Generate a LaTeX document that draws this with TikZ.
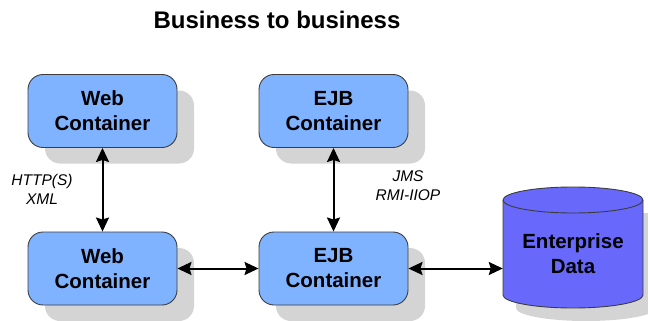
\documentclass[tikz,border=0pt]{standalone}
\usepackage{fontspec}
\setmainfont{Liberation Sans}
\usetikzlibrary{arrows.meta,shadows}
\definecolor{boxblue}{RGB}{128,179,255}
\definecolor{dbblue}{RGB}{104,104,250}
\definecolor{shadowgray}{RGB}{212,212,212}
\definecolor{edgegray}{RGB}{60,60,60}
\tikzset{
  cbox/.style={draw=edgegray, line width=0.9pt, fill=boxblue, rounded corners=15pt,
    minimum width=149pt, minimum height=73pt, align=center,
    font=\bfseries\fontsize{20.5}{25}\selectfont,
    drop shadow={shadow xshift=17pt, shadow yshift=-16pt, fill=shadowgray, opacity=1}},
  link/.style={line width=2pt, {Stealth[length=14pt,width=13pt,inset=2pt]}-{Stealth[length=14pt,width=13pt,inset=2pt]}},
  lbl/.style={font=\itshape\fontsize{15.5}{19}\selectfont, align=center}
}
\begin{document}
\begin{tikzpicture}[x=1pt,y=-1pt]
\useasboundingbox (0,0) rectangle (648,321);
\node[font=\bfseries\fontsize{24}{28}\selectfont] (title) at (277,20) {Business to business};
\node[cbox] (w1) at (102.5,111) {Web\\Container};
\node[cbox] (e1) at (333.5,111) {EJB\\Container};
\node[cbox] (w2) at (102.5,268.5) {Web\\Container};
\node[cbox] (e2) at (333.5,268.5) {EJB\\Container};
% cylinder
\fill[shadowgray] (516,213) -- (516,308) arc[start angle=180,end angle=360,x radius=70,y radius=-13] -- (656,213) -- cycle;
\filldraw[draw=edgegray, line width=0.9pt, fill=dbblue]
  (503,200) -- (503,295) arc[start angle=180,end angle=360,x radius=70,y radius=-13] -- (643,200)
  arc[start angle=0,end angle=180,x radius=70,y radius=-13] -- cycle;
\draw[edgegray, line width=0.9pt] (503,200) arc[start angle=180,end angle=360,x radius=70,y radius=-13];
\node[font=\bfseries\fontsize{20.5}{25}\selectfont, align=center, minimum width=140pt, minimum height=95pt] (db) at (573,254) {Enterprise\\Data};
\draw[link] (w1) -- (w2);
\draw[link] (e1) -- (e2);
\draw[link] (w2) -- (e2);
\draw[link] (e2.east) -- (db.west |- e2.east);
\node[lbl] (l1) at (42,189) {HTTP(S)\\XML};
\node[lbl] (l2) at (408,186) {JMS\\RMI-IIOP};
\end{tikzpicture}
\end{document}
